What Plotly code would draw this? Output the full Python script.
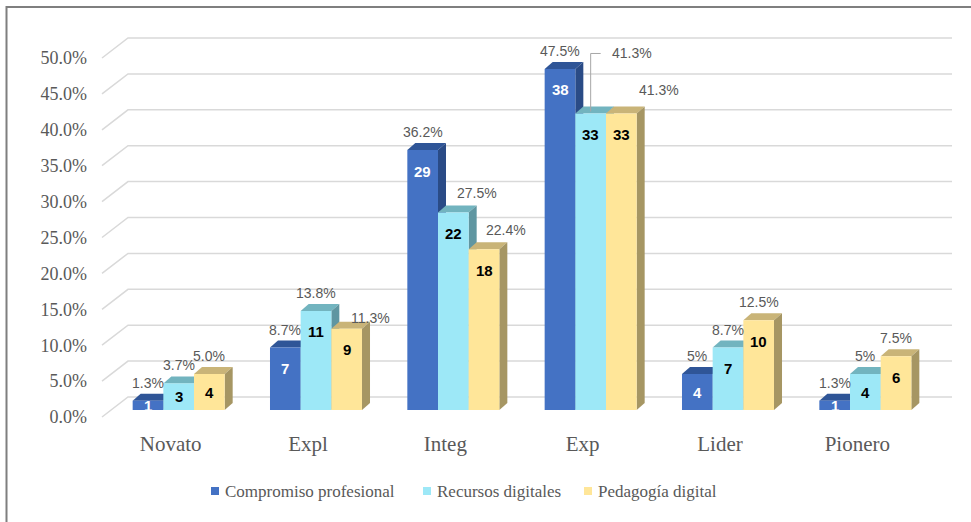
import plotly.graph_objects as go

# ---------------- data ----------------
categories = ["Novato", "Expl", "Integ", "Exp", "Lider", "Pionero"]
series_names = ["Compromiso profesional", "Recursos digitales", "Pedagogía digital"]

pct_compromiso = [1.3, 8.7, 36.2, 47.5, 5.0, 1.3]
pct_recursos = [3.7, 13.8, 27.5, 41.3, 8.7, 5.0]
pct_pedagogia = [5.0, 11.3, 22.4, 41.3, 12.5, 7.5]

n_compromiso = [1, 7, 29, 38, 4, 1]
n_recursos = [3, 11, 22, 33, 7, 4]
n_pedagogia = [4, 9, 18, 33, 10, 6]

lbl_compromiso = ["1.3%", "8.7%", "36.2%", "47.5%", "5%", "1.3%"]
lbl_recursos = ["3.7%", "13.8%", "27.5%", "41.3%", "8.7%", "5%"]
lbl_pedagogia = ["5.0%", "11.3%", "22.4%", "41.3%", "12.5%", "7.5%"]

y_tickvals = [0, 5, 10, 15, 20, 25, 30, 35, 40, 45, 50]
y_ticktext = ["0.0%", "5.0%", "10.0%", "15.0%", "20.0%", "25.0%",
              "30.0%", "35.0%", "40.0%", "45.0%", "50.0%"]

# ---------------- styles / geometry ----------------
W, H = 971, 522
ML, MR, MT, MB = 110, 37, 30, 97
PLOT_W = W - ML - MR
PLOT_H = H - MT - MB
PX_X = PLOT_W / 6.0          # pixels per category unit
PX_Y = 7.18                  # pixels per percent
Y0_PX = 410                  # pixel row of the bars' zero
Y_RANGE = [(Y0_PX - (H - MB)) / PX_Y, (Y0_PX - MT) / PX_Y]

BARGAP = 0.33
BW = (1 - BARGAP) / 3.0
DXU = 8 / PX_X               # 3D depth (x)
DYU = 7 / PX_Y               # 3D depth (y)
FRONT = 7 / PX_Y             # front wall offset below bar plane
BACK = 13 / PX_Y             # back wall offset above bar plane

front_cols = ["#4472C4", "#9DE8F7", "#FFE699"]
top_cols = ["#2F5597", "#72B4BF", "#C9B478"]
side_cols = ["#2A4B86", "#5F96A1", "#A69663"]
count_cols = ["white", "black", "black"]

SERIF = "Liberation Serif, Times New Roman, serif"
SANS = "Liberation Sans, Arial, sans-serif"
NARROW = "Liberation Sans Narrow, Arial Narrow, Liberation Sans, Arial"
GRAY = "#595959"


def xp(px):
    return (px - ML) / PLOT_W


def yp(py):
    return (H - MB - py) / PLOT_H


pcts = [pct_compromiso, pct_recursos, pct_pedagogia]
counts = [n_compromiso, n_recursos, n_pedagogia]
labels = [lbl_compromiso, lbl_recursos, lbl_pedagogia]

# nudges (px) for percent labels that Excel placed off-centre
pct_nudge = {(1, 2): (24, -7), (2, 1): (24, 2), (2, 2): (22, 1), (3, 2): (38, 5)}

fig = go.Figure()
xs = list(range(len(categories)))
for k in range(3):
    fig.add_trace(go.Bar(
        x=xs, y=pcts[k], name=series_names[k],
        marker=dict(color=front_cols[k], line=dict(width=0)),
        showlegend=False, hoverinfo="skip",
    ))

shapes = []
# gridlines (front diagonal + back wall)
for t in y_tickvals:
    shapes.append(dict(
        type="path", xref="paper", yref="y", layer="below",
        path=f"M{xp(102)},{t - FRONT} L{xp(128)},{t + BACK} L{xp(952)},{t + BACK}",
        line=dict(color="#D9D9D9", width=1.5),
    ))

annotations = []
for i in xs:
    for k in range(3):
        v = pcts[k][i]
        c = i + (k - 1) * BW
        x0, x1 = c - BW / 2, c + BW / 2
        shapes.append(dict(
            type="path", xref="x", yref="y", layer="between",
            path=f"M{x0},{v} L{x1},{v} L{x1 + DXU},{v + DYU} L{x0 + DXU},{v + DYU} Z",
            fillcolor=top_cols[k], line=dict(width=0),
        ))
        shapes.append(dict(
            type="path", xref="x", yref="y", layer="between",
            path=f"M{x1},0 L{x1},{v} L{x1 + DXU},{v + DYU} L{x1 + DXU},{DYU} Z",
            fillcolor=side_cols[k], line=dict(width=0),
        ))
        # count label inside bar
        hpx = v * PX_Y
        annotations.append(dict(
            x=c, y=v, xref="x", yref="y", text=f"<b>{counts[k][i]}</b>",
            showarrow=False, yanchor="middle", yshift=-min(21, hpx / 2),
            font=dict(family=NARROW, size=15, color=count_cols[k]),
        ))
        # percent label
        if (i, k) == (3, 1):
            annotations.append(dict(
                x=c, y=v, xref="x", yref="y", text=labels[k][i],
                showarrow=False, xanchor="left", yanchor="middle",
                xshift=19, yshift=60,
                font=dict(family=SANS, size=14, color=GRAY),
            ))
            shapes.append(dict(
                type="path", xref="x", yref="y", layer="above",
                xsizemode="pixel", ysizemode="pixel", xanchor=c, yanchor=v,
                path="M0,2 L0,60 L10,60",
                line=dict(color="#A6A6A6", width=1),
            ))
        else:
            nx, ny = pct_nudge.get((i, k), (0, 0))
            annotations.append(dict(
                x=c, y=v, xref="x", yref="y", text=labels[k][i],
                showarrow=False, yanchor="middle",
                xshift=nx, yshift=18 + ny,
                font=dict(family=SANS, size=14, color=GRAY),
            ))

# legend (manual, Excel-like)
leg_x = [211, 423, 584]
for k in range(3):
    shapes.append(dict(
        type="rect", xref="paper", yref="paper", layer="above",
        x0=xp(leg_x[k]), x1=xp(leg_x[k] + 8), y0=yp(495), y1=yp(487),
        fillcolor=front_cols[k], line=dict(width=0),
    ))
    annotations.append(dict(
        x=xp(leg_x[k] + 12), y=yp(491), xref="paper", yref="paper",
        text=series_names[k], showarrow=False, xanchor="left", yanchor="middle",
        font=dict(family=SERIF, size=17, color=GRAY),
    ))

# outer chart border (left + top visible)
shapes.append(dict(
    type="rect", xref="paper", yref="paper", layer="above",
    x0=xp(6.5), x1=xp(990), y0=yp(540), y1=yp(7),
    line=dict(color="#7F7F7F", width=2), fillcolor="rgba(0,0,0,0)",
))

fig.update_layout(
    width=W, height=H,
    margin=dict(l=ML, r=MR, t=MT, b=MB, pad=0),
    paper_bgcolor="white", plot_bgcolor="white",
    barmode="group", bargap=BARGAP, bargroupgap=0,
    showlegend=False,
    shapes=shapes, annotations=annotations,
    xaxis=dict(
        range=[-0.5, 5.5], showgrid=False, zeroline=False, showline=False,
        tickmode="array", tickvals=[i - DXU for i in xs], ticktext=categories,
        tickfont=dict(family=SERIF, size=21, color=GRAY),
        ticks="", ticklabelstandoff=4,
    ),
    yaxis=dict(
        range=Y_RANGE, showgrid=False, zeroline=False, showline=False,
        tickmode="array", tickvals=[t - FRONT for t in y_tickvals], ticktext=y_ticktext,
        tickfont=dict(family=SERIF, size=18, color=GRAY),
        ticks="", ticklabelstandoff=22,
    ),
)

fig.write_html("out.html")
